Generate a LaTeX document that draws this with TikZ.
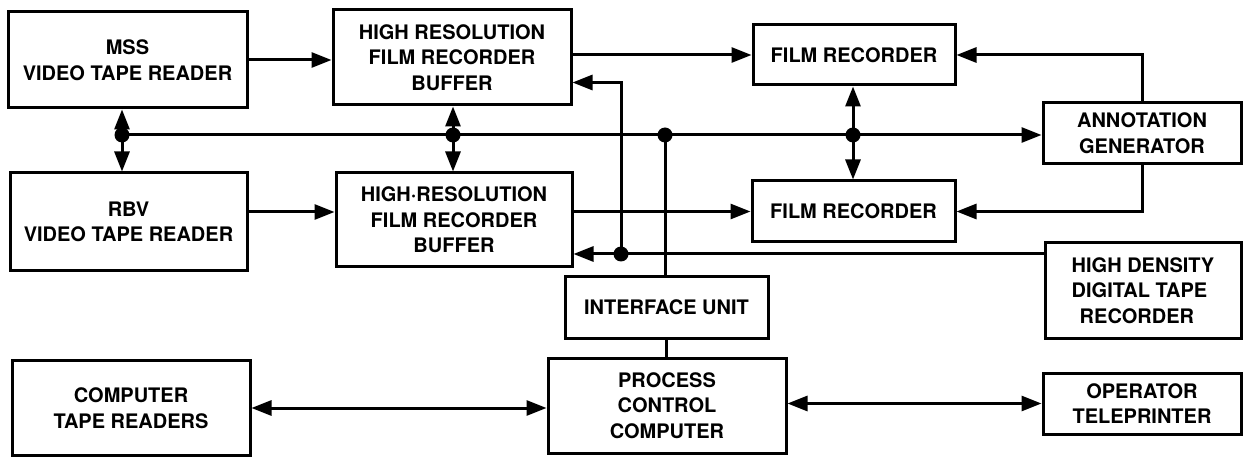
\documentclass[tikz,border=0pt]{standalone}
\usepackage{fontspec}
\setmainfont{TeX Gyre Heros}
\usetikzlibrary{arrows.meta}

\begin{document}
\begin{tikzpicture}[x=1pt, y=-1pt,
  every node/.style={font=\fontsize{20}{25.5}\selectfont\bfseries},
  box/.style={draw, line width=3pt, inner sep=0pt, align=center},
  arr/.style={line width=3pt, -{Triangle[length=20pt,width=15pt]}},
  dbl/.style={line width=3pt, {Triangle[length=20pt,width=15pt]}-{Triangle[length=20pt,width=15pt]}},
  wire/.style={line width=3pt}]
  \useasboundingbox (0,0) rectangle (1243,457);
  % blocks
  \node[box, minimum width=239pt, minimum height=96pt] (mss) at (127.5,60) {MSS\\VIDEO TAPE READER};
  \node[box, minimum width=237pt, minimum height=98pt] (rbv) at (128.5,222) {RBV\\VIDEO TAPE READER};
  \node[box, minimum width=238pt, minimum height=95pt] (buf1) at (452,57.5) {HIGH RESOLUTION\\FILM RECORDER\\BUFFER};
  \node[box, minimum width=236pt, minimum height=94pt] (buf2) at (454,220) {HIGH·RESOLUTION\\FILM RECORDER\\BUFFER};
  \node[box, minimum width=202pt, minimum height=60pt] (fr1) at (854,55) {FILM RECORDER};
  \node[box, minimum width=203pt, minimum height=61pt] (fr2) at (853.5,211.5) {FILM RECORDER};
  \node[box, minimum width=198pt, minimum height=61pt] (ann) at (1142,133) {ANNOTATION\\GENERATOR};
  \node[box, minimum width=196pt, minimum height=95pt, align=left] (hd) at (1143,290.5) {HIGH DENSITY\\DIGITAL TAPE\\\hspace{8pt}RECORDER};
  \node[box, minimum width=203pt, minimum height=61pt] (iface) at (666.5,307.5) {INTERFACE UNIT};
  \node[box, minimum width=238pt, minimum height=95pt] (pcc) at (667,405.5) {PROCESS\\CONTROL\\COMPUTER};
  \node[box, minimum width=238pt, minimum height=95pt] (ctr) at (131,408) {COMPUTER\\TAPE READERS};
  \node[box, minimum width=198pt, minimum height=61pt] (op) at (1142,403.5) {OPERATOR\\TELEPRINTER};
  % junctions
  \coordinate (j1) at (122,135);
  \coordinate (j2) at (453,135);
  \coordinate (j3) at (665,135);
  \coordinate (j4) at (853,135);
  \coordinate (j5) at (621,254);
  % data paths
  \draw[arr] (mss.east) -- (mss.east -| buf1.west);
  \draw[arr] ([yshift=10pt]rbv.east) -- ([yshift=10pt]rbv.east -| buf2.west);
  \draw[arr] (buf1.east |- fr1.west) -- (fr1.west);
  \draw[arr] (buf2.east |- fr2.west) -- (fr2.west);
  \draw[arr] (j1) -- (j1 -| ann.west);
  \draw[dbl] (j1 |- mss.south) -- (j1 |- rbv.north);
  \draw[dbl] (j2 |- buf1.south) -- (j2 |- buf2.north);
  \draw[dbl] (j4 |- fr1.south) -- (j4 |- fr2.north);
  \draw[wire] (j3) -- (j3 |- iface.north);
  \draw[wire] (iface.south) -- (iface.south |- pcc.north);
  \draw[arr] (j5 -| hd.west) -- (j5 -| buf2.east);
  \draw[arr] (j5) |- ([yshift=-25pt]buf1.east);
  \draw[arr] (ann.north) |- (fr1.east);
  \draw[arr] (ann.south) |- (fr2.east);
  \draw[dbl] (ctr.east) -- (ctr.east -| pcc.west);
  \draw[dbl] (pcc.east |- op.west) -- (op.west);
  \foreach \j in {j1,j2,j3,j4,j5}
    \fill (\j) circle[radius=7.5pt];
\end{tikzpicture}
\end{document}
